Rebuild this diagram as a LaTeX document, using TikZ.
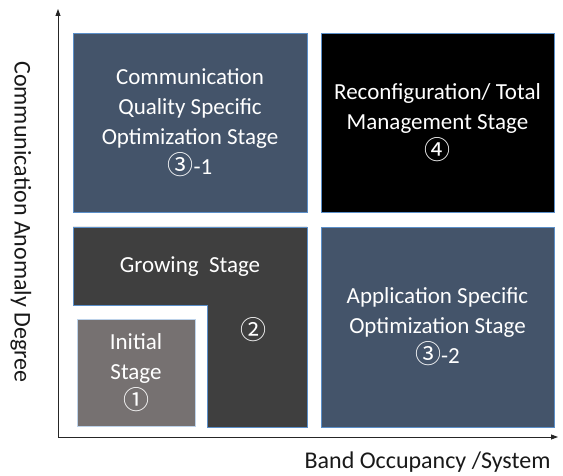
\documentclass[tikz,border=0pt]{standalone}
\usepackage{fontspec}
\setmainfont{Carlito}
\newfontfamily\circfont{Noto Sans CJK JP}
\usetikzlibrary{arrows.meta,positioning}
\definecolor{slateblue}{HTML}{44546A}
\definecolor{darkgrey}{HTML}{3F3F3F}
\definecolor{warmgrey}{HTML}{767171}
\definecolor{edgeblue}{HTML}{5B8FC9}
\newcommand{\circnum}[1]{{\circfont\fontsize{26}{30}\selectfont #1}}

\begin{document}
\begin{tikzpicture}[
    x=1pt, y=-1pt,
    stage/.style={draw=edgeblue, line width=0.8pt, inner sep=0pt, text=white, align=center, font=\fontsize{23}{30}\selectfont},
    stagetext/.style={text=white, align=center, font=\fontsize{23}{30}\selectfont},
    axis/.style={-{Triangle[length=7pt,width=5pt]}, line width=0.8pt, black!85},
    axislabel/.style={font=\fontsize{24}{28}\selectfont, text=black!90}
]
\useasboundingbox (0,0) rectangle (563,476);

% stage boxes
\node[stage, fill=slateblue, minimum width=234pt, minimum height=179pt] (quality) at (190,122.5)
    {Communication\\Quality Specific\\Optimization Stage\\\circnum{③}-1};
\node[stage, fill=black, minimum width=233pt, minimum height=179pt] (total) at (437.5,122.5)
    {Reconfiguration/ Total\\Management Stage\\\circnum{④}};
\node[stage, fill=slateblue, minimum width=233pt, minimum height=200pt] (application) at (437.5,327)
    {Application Specific\\Optimization Stage\\\circnum{③}-2};

% growing stage (L shape)
\draw[draw=edgeblue, line width=0.8pt, fill=darkgrey] (73,227) -- (307,227) -- (307,427) -- (207,427) -- (207,305) -- (73,305) -- cycle;
\node[stagetext] (growing) at (190,267) {Growing~ Stage};
\node[stagetext] (two) at (253,330) {\circnum{②}};

\node[stage, fill=warmgrey, draw=edgeblue!40, minimum width=118pt, minimum height=107pt] (initial) at (136,372.5)
    {Initial\\Stage\\\circnum{①}};

% axes
\coordinate (origin) at (58,437);
\coordinate (ytip) at (58,9);
\coordinate (xtip) at (558,437);
\draw[axis] (origin) -- (ytip);
\draw[axis] (origin) -- (xtip);

\node[axislabel, rotate=-90] (ylabel) at (21,222) {Communication Anomaly Degree};
\node[axislabel, anchor=east] (xlabel) at (554,462) {Band Occupancy /System};
\end{tikzpicture}
\end{document}
